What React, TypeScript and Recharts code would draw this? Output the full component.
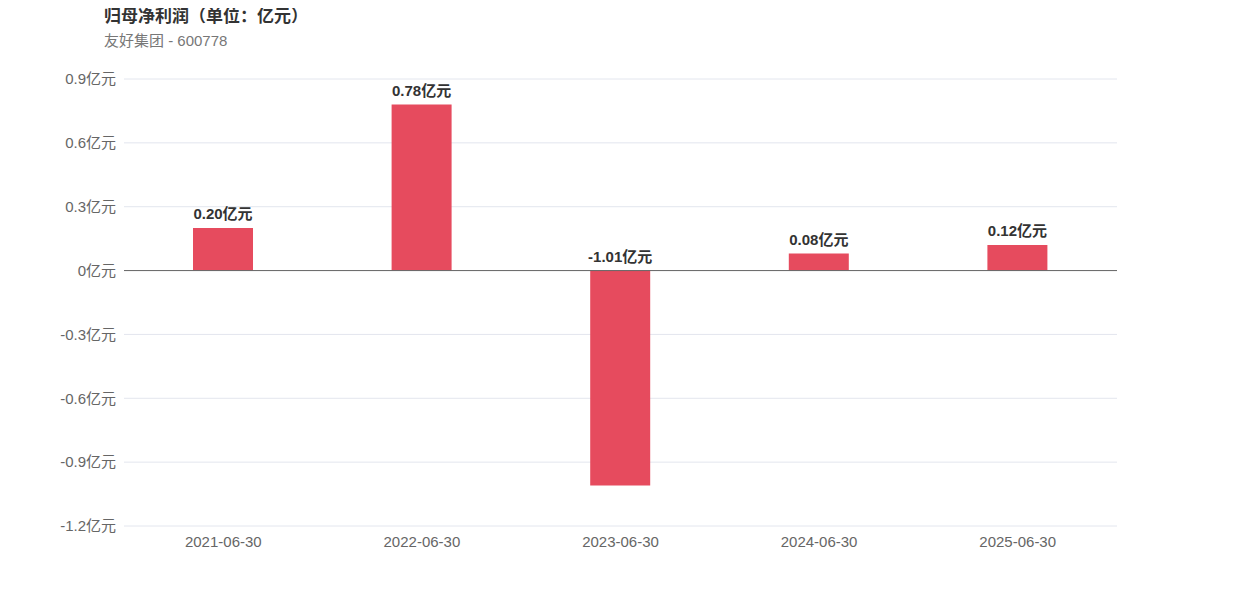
import React from "react";
import { BarChart, Bar, XAxis, YAxis, CartesianGrid, ReferenceLine, LabelList } from "recharts";

const categories = ["2021-06-30", "2022-06-30", "2023-06-30", "2024-06-30", "2025-06-30"];
const profits = [0.2, 0.78, -1.01, 0.08, 0.12];
const yTicks = [-1.2, -0.9, -0.6, -0.3, 0, 0.3, 0.6, 0.9];

const data = categories.map((date, i) => ({ date, value: profits[i] }));

const FONT = '"Liberation Sans", Arial, "Noto Sans CJK SC", sans-serif';

const renderLabel = (props: any) => {
  const { x, y, width, height, value } = props;
  const top = Math.min(y, y + height);
  return (
    <text
      x={x + width / 2}
      y={top - 9}
      textAnchor="middle"
      fill="#333"
      fontSize={15}
      fontWeight="bold"
      fontFamily={FONT}
    >
      {`${Number(value).toFixed(2)}亿元`}
    </text>
  );
};

export default function App() {
  return (
    <div style={{ position: "relative", width: 1242, height: 596, margin: -8, background: "#fff", fontFamily: FONT }}>
      <div style={{ position: "absolute", left: 104, top: 2, fontSize: 17, fontWeight: "bold", color: "#333" }}>
        归母净利润（单位：亿元）
      </div>
      <div style={{ position: "absolute", left: 104, top: 29, fontSize: 15, color: "#777" }}>
        友好集团 - 600778
      </div>
      <BarChart
        width={1242}
        height={596}
        data={data}
        margin={{ top: 79, right: 125, bottom: 40, left: 0 }}
      >
        <CartesianGrid vertical={false} stroke="#e3e6ee" />
        <XAxis
          dataKey="date"
          height={30}
          axisLine={false}
          tickLine={false}
          tickMargin={4}
          tick={{ fill: "#666", fontSize: 15, fontFamily: FONT }}
        />
        <YAxis
          width={124}
          domain={[-1.2, 0.9]}
          ticks={yTicks}
          axisLine={false}
          tickLine={false}
          tickMargin={2}
          interval={0}
          tickFormatter={(v: number) => `${v}亿元`}
          tick={{ fill: "#666", fontSize: 15, fontFamily: FONT }}
        />
        <ReferenceLine y={0} stroke="#666" strokeWidth={1} />
        <Bar dataKey="value" fill="#e64b5e" barSize={60} isAnimationActive={false}>
          <LabelList dataKey="value" content={renderLabel} />
        </Bar>
      </BarChart>
    </div>
  );
}
